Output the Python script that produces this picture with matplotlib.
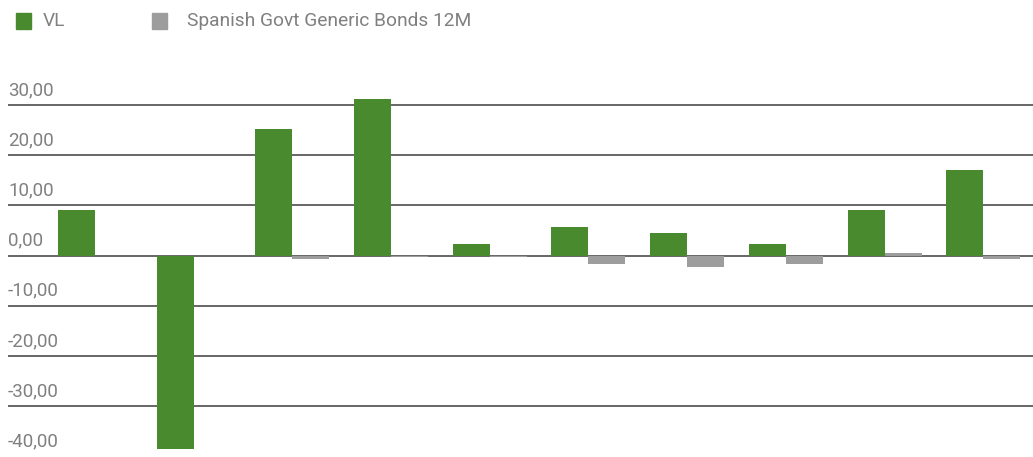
import numpy as np
import matplotlib
matplotlib.use("Agg")
import matplotlib.pyplot as plt
import matplotlib.transforms as mtransforms
from matplotlib.patches import Rectangle

plt.rcParams["font.family"] = ["Roboto", "DejaVu Sans"]

# data
vl = [9.0, -38.5, 25.2, 31.2, 2.3, 5.7, 4.5, 2.3, 9.1, 17.0]
bonds = [0.0, 0.0, -0.6, -0.2, -0.2, -1.6, -2.2, -1.6, 0.5, -0.6]
yticks = [30, 20, 10, 0, -10, -20, -30, -40]
series_names = ["VL", "Spanish Govt Generic Bonds 12M"]

GREEN = "#4a8a2f"
GREY = "#9d9d9d"
TEXT = "#808080"

W, H = 1033, 457
fig = plt.figure(figsize=(W / 100, H / 100), dpi=100)
ax = fig.add_axes([8 / W, 0, 1 - 8 / W, 1])

x = np.arange(len(vl))
w = 0.375
ax.bar(x - w / 2, vl, w, color=GREEN, zorder=3)
ax.bar(x + w / 2, bonds, w, color=GREY, zorder=3)

ax.set_xlim(-0.88, 9.503)
ax.set_ylim(-40.14, 50.9)

for v in yticks:
    if v > -40:
        ax.axhline(v, color="#4d4d4d", lw=1.2, zorder=2)
    off = mtransforms.offset_copy(ax.transData, fig=fig, x=0, y=10, units="dots")
    blend = mtransforms.blended_transform_factory(ax.transAxes, off)
    ax.text(0, v, f"{v},00", transform=blend, ha="left", va="baseline",
            fontsize=13.5, color=TEXT)

ax.set_axis_off()

# legend drawn by hand (pixel positions from the reference)
for (px, name, col) in [(16, series_names[0], GREEN), (152, series_names[1], GREY)]:
    fig.patches.append(Rectangle((px / W, 1 - 29 / H), 15 / W, 16 / H,
                                 transform=fig.transFigure, color=col))
    fig.text((px + 27 if px == 16 else px + 35) / W, 1 - 21 / H, name,
             ha="left", va="center", fontsize=13.8, color=TEXT)

fig.savefig("out.png", dpi=100)
